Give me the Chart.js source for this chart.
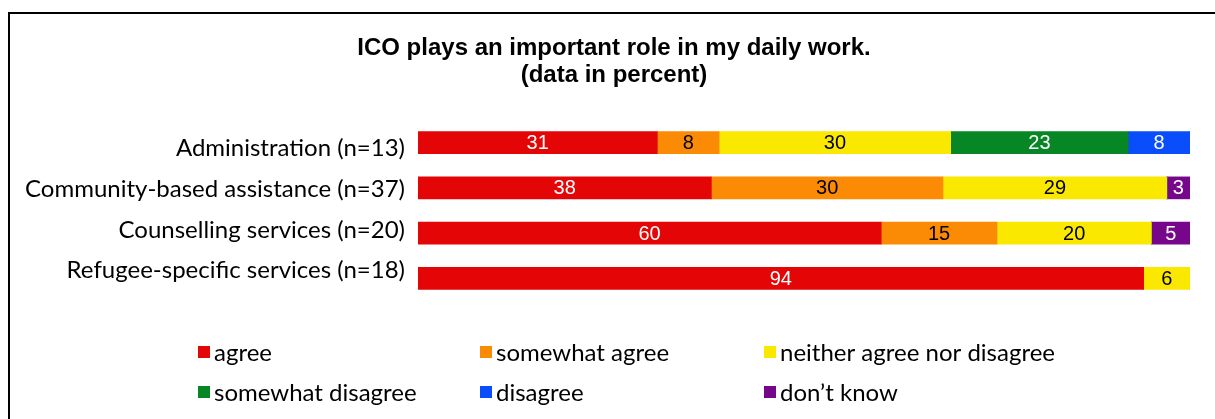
<!DOCTYPE html>
<html>
<head>
<meta charset="utf-8">
<script src="https://cdn.jsdelivr.net/npm/chart.js@4"></script>
<style>
html,body{margin:0;padding:0;background:#fff;}
#wrap{width:1215px;height:419px;position:relative;}
</style>
</head>
<body>
<div id="wrap"><canvas id="c" width="1215" height="419"></canvas></div>
<script>
const categories = ['Administration (n=13)', 'Community-based assistance (n=37)', 'Counselling services (n=20)', 'Refugee-specific services (n=18)'];
const seriesNames = ['agree', 'somewhat agree', 'neither agree nor disagree', 'somewhat disagree', 'disagree', 'don\u2019t know'];
const agree = [31, 38, 60, 94];
const somewhatAgree = [8, 30, 15, 0];
const neither = [30, 29, 20, 6];
const somewhatDisagree = [23, 0, 0, 0];
const disagree = [8, 0, 0, 0];
const dontKnow = [0, 3, 5, 0];
const titleLines = ['ICO plays an important role in my daily work.', '(data in percent)'];

const colors = ['#E40506', '#FB8A04', '#FAE800', '#078625', '#0A4DFB', '#76078A'];
const labelColors = ['#ffffff', '#000000', '#000000', '#ffffff', '#ffffff', '#ffffff'];
const values = [agree, somewhatAgree, neither, somewhatDisagree, disagree, dontKnow];

const datasets = seriesNames.map((name, i) => ({
  label: name,
  data: values[i],
  backgroundColor: colors[i],
  borderWidth: 0,
  barThickness: 22,
  valueColor: labelColors[i]
}));

const decor = {
  id: 'decor',
  beforeDraw(chart) {
    const ctx = chart.ctx;
    ctx.save();
    ctx.fillStyle = '#fff';
    ctx.fillRect(0, 0, chart.width, chart.height);
    ctx.strokeStyle = '#000';
    ctx.lineWidth = 2;
    ctx.beginPath();
    ctx.moveTo(9, 420);
    ctx.lineTo(9, 13);
    ctx.lineTo(1216, 13);
    ctx.stroke();
    // title
    ctx.fillStyle = '#000';
    ctx.font = 'bold 24px "Liberation Sans", Arial, sans-serif';
    ctx.textAlign = 'center';
    ctx.textBaseline = 'middle';
    ctx.fillText(titleLines[0], 614, 48);
    ctx.fillText(titleLines[1], 614, 75);
    ctx.restore();
  },
  afterDatasetsDraw(chart) {
    const ctx = chart.ctx;
    ctx.save();
    // category labels (slightly tighter spacing than the bars, as in the original)
    const ys = chart.scales.y;
    const n = categories.length;
    const firstBase = ys.getPixelForValue(0) + 13.4;
    const lastBase = ys.getPixelForValue(n - 1) - 0.1;
    ctx.font = '24px Lato, "Noto Sans", sans-serif';
    ctx.fillStyle = '#000';
    ctx.textAlign = 'right';
    ctx.textBaseline = 'alphabetic';
    categories.forEach((c, i) => {
      const yb = firstBase + (lastBase - firstBase) * i / (n - 1);
      ctx.fillText(c, ys.right - 13, yb);
    });
    // values
    ctx.font = '20px "Liberation Sans", Arial, sans-serif';
    ctx.textAlign = 'center';
    ctx.textBaseline = 'middle';
    chart.data.datasets.forEach((ds, i) => {
      const meta = chart.getDatasetMeta(i);
      meta.data.forEach((bar, j) => {
        const v = ds.data[j];
        if (!v) return;
        const cx = (bar.x + bar.base) / 2;
        ctx.fillStyle = ds.valueColor;
        ctx.fillText(String(v), cx, bar.y + 1);
      });
    });
    // legend
    const colX = [198, 480, 764];
    const rowY = [353, 393];
    ctx.font = '24px Lato, "Noto Sans", sans-serif';
    ctx.textAlign = 'left';
    chart.data.datasets.forEach((ds, i) => {
      const x = colX[i % 3];
      const y = rowY[Math.floor(i / 3)];
      ctx.fillStyle = ds.backgroundColor;
      ctx.fillRect(x, y - 7, 12, 12);
      ctx.fillStyle = '#000';
      ctx.fillText(ds.label, x + 16, y);
    });
    ctx.restore();
  }
};

new Chart(document.getElementById('c'), {
  type: 'bar',
  data: { labels: categories, datasets },
  options: {
    indexAxis: 'y',
    responsive: false,
    animation: false,
    layout: { padding: { top: 120, bottom: 118, left: 0, right: 25 } },
    plugins: { legend: { display: false }, title: { display: false }, tooltip: { enabled: false } },
    scales: {
      x: { stacked: true, min: 0, max: 100, display: false },
      y: {
        stacked: true,
        grid: { display: false, drawTicks: false },
        border: { display: false },
        afterFit(scale) { scale.width = 418; },
        ticks: { display: false }
      }
    }
  },
  plugins: [decor]
});
</script>
</body>
</html>
